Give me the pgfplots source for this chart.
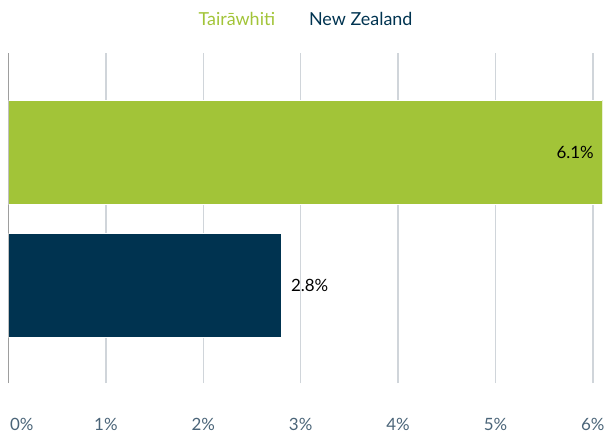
\documentclass[border=0pt]{standalone}
\usepackage{pgfplots}
\pgfplotsset{compat=1.18}
\usetikzlibrary{calc}
\usepackage{fontspec}
\setmainfont{Lato}
\definecolor{tgreen}{HTML}{A2C438}
\definecolor{nznavy}{HTML}{003350}
\definecolor{gridgray}{HTML}{D0D5DA}
\definecolor{ticktext}{HTML}{4A6478}
\begin{document}
\begin{tikzpicture}
\begin{axis}[
  name=ax,
  scale only axis,
  width=594bp, height=330bp,
  xmin=0, xmax=6.1,
  ymin=-0.737, ymax=1.745,
  axis line style={draw=none},
  /pgf/number format/assume math mode=true,
  xtick={1,2,3,4,5,6},
  extra x ticks={0},
  extra x tick style={
    major grid style={draw=black!38, line width=1.6pt},
    xticklabel style={anchor=north west, xshift=-2bp},
  },
  xticklabels={1\%,2\%,3\%,4\%,5\%,6\%},
  extra x tick labels={0\%},
  xmajorgrids,
  major grid style={draw=gridgray, line width=1.3pt},
  major tick length=0pt,
  ytick=\empty,
  xticklabel style={font=\fontsize{17}{19}\selectfont, text=ticktext, yshift=-32bp},
  xbar, bar shift=0pt,
  bar width=104bp,
  legend style={draw=none, fill=none, legend columns=2, at={(0.5,1)}, anchor=south, yshift=22bp,
    font=\fontsize{18}{20}\selectfont, /tikz/every even column/.append style={column sep=30bp}},
  legend cell align=left,
  legend image code/.code={},
  nodes near coords={\pgfmathprintnumber[fixed,precision=1,fixed zerofill,assume math mode=true]{\pgfplotspointmeta}\%},
  nodes near coords style={font=\fontsize{17}{19}\selectfont, text=black},
]
\addplot[fill=tgreen, draw=white, line width=1pt,
  nodes near coords style={anchor=east, xshift=-5bp}] coordinates {(6.1,1)};
\addlegendentry{\textcolor{tgreen}{Tairāwhiti}}
\addplot[fill=nznavy, draw=white, line width=1pt,
  nodes near coords style={anchor=west, xshift=6bp}] coordinates {(2.8,0)};
\addlegendentry{\textcolor{nznavy}{New Zealand}}
\end{axis}
\pgfresetboundingbox
\path (ax.south west) ++(-8.5bp,-52bp) rectangle ($(ax.north east)+(3.4bp,53bp)$);
\end{tikzpicture}
\end{document}
